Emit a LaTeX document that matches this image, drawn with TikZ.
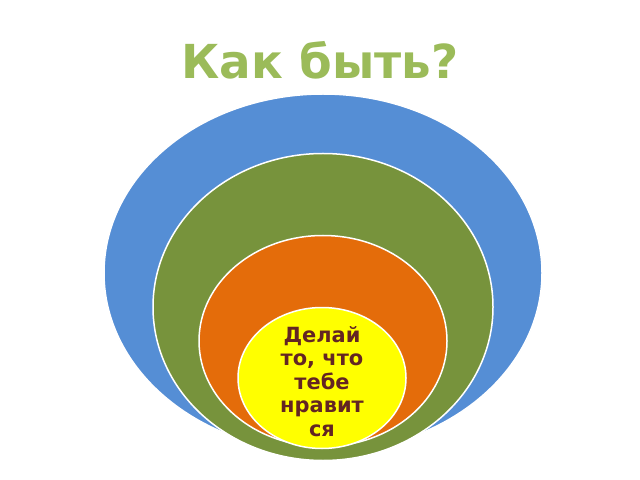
\documentclass[tikz,border=0pt]{standalone}
\usepackage{fontspec}
\setmainfont{DejaVu Sans}
\usetikzlibrary{shapes.geometric}
\definecolor{titlegreen}{HTML}{9BBB59}
\definecolor{ringblue}{HTML}{558ED5}
\definecolor{ringgreen}{HTML}{77933C}
\definecolor{ringorange}{HTML}{E46C0A}
\definecolor{ringyellow}{HTML}{FFFF00}
\definecolor{advicered}{HTML}{632523}
\tikzset{ring/.style={ellipse,draw=white,line width=1.5bp,inner sep=0pt}}
\begin{document}
\begin{tikzpicture}[x=1bp,y=-1bp]
\useasboundingbox (0,0) rectangle (640,480);
\begin{scope}
    \path (320,79) node (title) [anchor=base,text=titlegreen,font=\bfseries\fontsize{47}{55}\selectfont] {Как быть?};
    \path (323,273) node (blue) [ring,fill=ringblue,minimum width=438bp,minimum height=358bp] {};
    \path (323,307) node (green) [ring,fill=ringgreen,minimum width=340bp,minimum height=307bp] {};
    \path (323,341) node (orange) [ring,fill=ringorange,minimum width=248bp,minimum height=211bp] {};
    \path (322,378) node (yellow) [ring,fill=ringyellow,minimum width=168bp,minimum height=141bp] {};
    \path (322,323) node (advice) [anchor=north,align=center,text=advicered,font=\bfseries\fontsize{21}{23.5}\selectfont] {Делай\\то, что\\тебе\\нравит\\ся};
\end{scope}
\end{tikzpicture}
\end{document}
